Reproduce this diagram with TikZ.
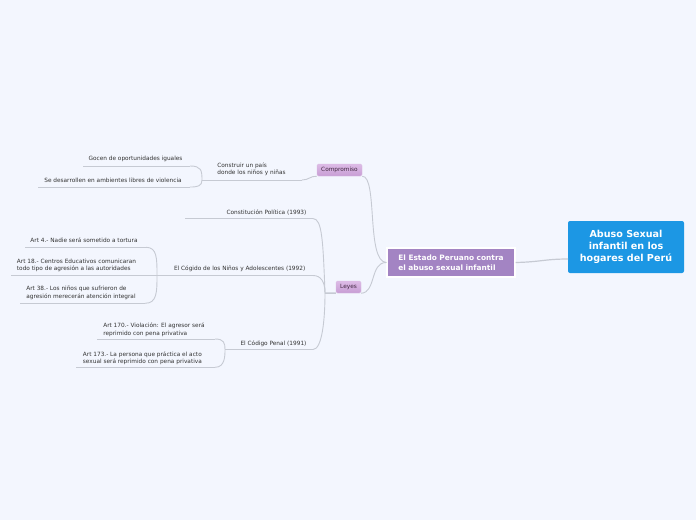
\documentclass[tikz,border=0pt]{standalone}
\usepackage{fontspec}
\setmainfont{DejaVu Sans}
\usepackage{tikz}
\usetikzlibrary{positioning,shadows}
\definecolor{canvas}{HTML}{F3F6FE}
\definecolor{rootblue}{HTML}{1C97E4}
\definecolor{orchid}{HTML}{A384C3}
\definecolor{lilac}{HTML}{DDBBE6}
\definecolor{lilacdark}{HTML}{C79DD4}
\definecolor{wire}{HTML}{C6CAD3}
\definecolor{ink}{HTML}{333333}
\tikzset{
  link/.style={draw=wire,line width=0.9pt},
  leaf/.style={font=\fontsize{5.8}{7.4}\selectfont,text=ink,inner sep=0pt,align=left},
  tag/.style={font=\fontsize{5.8}{7}\selectfont,text=ink!80!violet,inner sep=0pt,
    rounded corners=1.5pt,draw=lilacdark!70,top color=lilac,bottom color=lilacdark,minimum height=12pt}
}

\begin{document}
\begin{tikzpicture}[x=1pt,y=-1pt]
        \fill[canvas] (0,0) rectangle (696,520);
        \useasboundingbox (0,0) rectangle (696,520);
        % central topics
        \node[fill=rootblue,rounded corners=2pt,minimum width=116pt,minimum height=52pt,inner sep=0pt,
          text=white,font=\bfseries\fontsize{9.6}{12.2}\selectfont,align=center] (root) at (626,247)
          {Abuso Sexual\\infantil en los\\hogares del Perú};
        \node[fill=orchid,draw=white,line width=1.2pt,drop shadow={opacity=0.25,shadow xshift=0.6pt,shadow yshift=-0.8pt},
          minimum width=128pt,minimum height=29pt,inner sep=0pt,text=white,
          font=\bfseries\fontsize{7.4}{10}\selectfont,align=left] (estado) at (451,262.5)
          {El Estado Peruano contra\\el abuso sexual infantil};
        \node[tag,minimum width=45pt] (comp) at (339.5,170) {Compromiso};
        \node[tag,minimum width=25pt] (leyes) at (348.5,287) {Leyes};
        % texts
        \node[leaf] (construir) at (251.5,169) {Construir un país\\donde los niños y niñas};
        \node[leaf] (gocen) at (135.5,159.3) {Gocen de oportunidades iguales};
        \node[leaf] (sedes) at (113,180) {Se desarrollen en ambientes libres de violencia};
        \node[leaf] (constit) at (266.5,212.7) {Constitución Política (1993)};
        \node[leaf] (ninos) at (239.7,268.7) {El Cógido de los Niños y Adolescentes (1992)};
        \node[leaf] (penal) at (273.5,343.3) {El Código Penal (1991)};
        \node[leaf] (art4) at (84,240.7) {Art 4.- Nadie será sometido a tortura};
        \node[leaf] (art18) at (76.5,265.3) {Art 18.- Centros Educativos comunicaran\\todo tipo de agresión a las autoridades};
        \node[leaf] (art38) at (81,293) {Art 38.- Los niños que sufrieron de\\agresión merecerán atención integral};
        \node[leaf] (art170) at (154,329.7) {Art 170.- Violación: El agresor será\\reprimido con pena privativa};
        \node[leaf] (art173) at (142.4,358) {Art 173.- La persona que práctica el acto\\sexual será reprimido con pena privativa};
        % underline ends and joints
        \coordinate (rootIn) at (568,259);
        \coordinate (gL) at (83,166);   \coordinate (gR) at (190,166);
        \coordinate (sL) at (38,187);   \coordinate (sR) at (190,187);
        \coordinate (jC) at (202,180);  \coordinate (cR) at (302,180);
        \coordinate (kL) at (185,218.6); \coordinate (kR) at (313,218.6);
        \coordinate (jL) at (325,293);
        \coordinate (jN) at (157,275.5); \coordinate (nR) at (313,275.5);
        \coordinate (jP) at (225,349.5); \coordinate (pR) at (313,349.5);
        \coordinate (a4L) at (25,247.3);  \coordinate (a4R) at (146,247.3);
        \coordinate (a18L) at (11,275.5);
        \coordinate (a38L) at (20,303.3); \coordinate (a38R) at (145,303.3);
        \coordinate (a170L) at (97,339);  \coordinate (a170R) at (215,339);
        \coordinate (a173L) at (76,367.3); \coordinate (a173R) at (215,367.3);
        \foreach \a/\b in {gL/gR,sL/sR,jC/cR,kL/kR,a18L/jN,jN/nR,jP/pR,a4L/a4R,a38L/a38R,a170L/a170R,a173L/a173R} {
          \draw[link] (\a) -- (\b);
        }
        % connectors
        \draw[link,line width=1.2pt] (estado.east) .. controls (540,262) and (545,259) .. (rootIn);
        \draw[link] (comp.south east) .. controls (378,176) and (366,262) .. (estado.west);
        \draw[link] (leyes.south east) .. controls (376,293) and (370,262) .. (estado.west);
        \draw[link] (comp.south west) .. controls (310,176) and (309,180) .. (cR);
        \draw[link] (gR) .. controls (201,166) and (202,170) .. (jC);
        \draw[link] (jC) .. controls (202,186) and (198,187) .. (sR);
        \draw[link,line width=1.5pt] (leyes.south west) -- (jL);
        \draw[link] (kR) .. controls (322,218.6) and (323,240) .. (jL);
        \draw[link] (nR) .. controls (321,275.5) and (325,282) .. (jL);
        \draw[link] (pR) .. controls (322,349.5) and (325,320) .. (jL);
        \draw[link] (a4R) .. controls (157,247.3) and (157,258) .. (jN);
        \draw[link] (a38R) .. controls (157,303.3) and (157,292) .. (jN);
        \draw[link] (a170R) .. controls (224,339) and (225,343) .. (jP);
        \draw[link] (a173R) .. controls (225,367.3) and (225,356) .. (jP);
      \end{tikzpicture}
\end{document}
